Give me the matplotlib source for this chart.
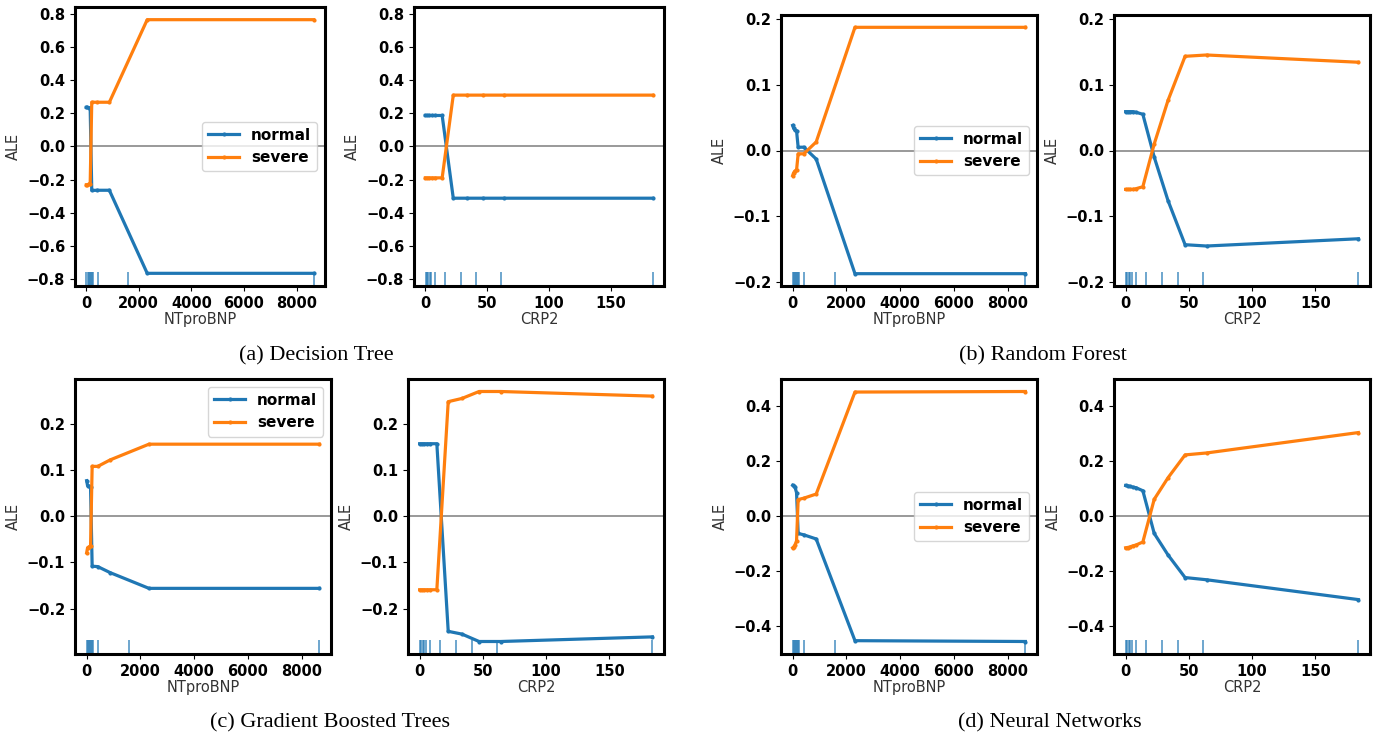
import matplotlib
matplotlib.use("Agg")
import matplotlib.pyplot as plt
from matplotlib import transforms
from matplotlib.ticker import MultipleLocator

W, H = 1376, 738

# feature grids (ALE bin edges) and deciles for the rug
nt_x = [5, 40, 90, 150, 210, 420, 880, 2320, 8650]
crp_x = [0, 1.5, 3.3, 5.7, 8.2, 13.6, 22.6, 33.5, 47, 64, 184]
nt_rug = [10, 50, 90, 130, 170, 210, 250, 440, 1570, 8650]
crp_rug = [0.3, 1.2, 2.3, 3.5, 4.8, 7.8, 16.3, 28.5, 41.2, 61, 184]

# Decision Tree
dt_nt_normal = [0.236, 0.236, 0.233, 0.233, -0.266, -0.265, -0.265, -0.767, -0.767]
dt_nt_severe = [-0.232, -0.232, -0.228, -0.228, 0.267, 0.267, 0.267, 0.766, 0.766]
dt_crp_normal = [0.187, 0.187, 0.187, 0.187, 0.187, 0.187, -0.313, -0.313, -0.313, -0.313, -0.313]
dt_crp_severe = [-0.190, -0.190, -0.190, -0.190, -0.190, -0.190, 0.310, 0.310, 0.310, 0.310, 0.310]

# Random Forest
rf_nt_normal = [0.038, 0.034, 0.031, 0.030, 0.005, 0.005, -0.013, -0.187, -0.187]
rf_nt_severe = [-0.038, -0.034, -0.031, -0.030, -0.005, -0.005, 0.013, 0.187, 0.187]
rf_crp_normal = [0.059, 0.059, 0.059, 0.059, 0.058, 0.055, -0.010, -0.076, -0.143, -0.145, -0.134]
rf_crp_severe = [-0.059, -0.059, -0.059, -0.059, -0.058, -0.055, 0.010, 0.076, 0.143, 0.145, 0.134]

# Gradient Boosted Trees
gb_nt_normal = [0.077, 0.066, 0.065, 0.064, -0.108, -0.109, -0.122, -0.156, -0.156]
gb_nt_severe = [-0.079, -0.068, -0.066, -0.065, 0.108, 0.108, 0.122, 0.156, 0.156]
gb_crp_normal = [0.157, 0.157, 0.157, 0.157, 0.157, 0.157, -0.249, -0.255, -0.271, -0.271, -0.261]
gb_crp_severe = [-0.159, -0.159, -0.159, -0.159, -0.159, -0.159, 0.248, 0.255, 0.270, 0.270, 0.260]

# Neural Networks
nn_nt_normal = [0.112, 0.110, 0.106, 0.085, -0.063, -0.068, -0.083, -0.452, -0.455]
nn_nt_severe = [-0.115, -0.112, -0.105, -0.090, 0.060, 0.065, 0.080, 0.450, 0.452]
nn_crp_normal = [0.111, 0.110, 0.108, 0.105, 0.103, 0.092, -0.063, -0.141, -0.223, -0.231, -0.303]
nn_crp_severe = [-0.115, -0.114, -0.112, -0.108, -0.105, -0.094, 0.061, 0.139, 0.222, 0.229, 0.303]

captions = ["(a) Decision Tree", "(b) Random Forest",
            "(c) Gradient Boosted Trees", "(d) Neural Networks"]

# (left, top, right, bottom) in pixels for the two axes of each sub-figure
boxes = [
    [(75, 7, 325, 286), (414, 7, 664, 286)],
    [(781, 15, 1037, 286), (1114, 15, 1370, 286)],
    [(75, 379, 331, 654), (408, 379, 664, 654)],
    [(781, 379, 1037, 654), (1114, 379, 1370, 654)],
]
caption_pos = [(316, 356), (1043, 356), (330, 723), (1050, 723)]
ystep = [0.2, 0.1, 0.1, 0.2]
legend_loc = ["center right", "center right", "upper right", "center right"]

series = [
    (dt_nt_normal, dt_nt_severe, dt_crp_normal, dt_crp_severe),
    (rf_nt_normal, rf_nt_severe, rf_crp_normal, rf_crp_severe),
    (gb_nt_normal, gb_nt_severe, gb_crp_normal, gb_crp_severe),
    (nn_nt_normal, nn_nt_severe, nn_crp_normal, nn_crp_severe),
]


def px_axes(fig, box, sharey=None):
    l, t, r, b = box
    return fig.add_axes([l / W, 1 - b / H, (r - l) / W, (b - t) / H], sharey=sharey)


def ale_panel(ax, x, normal, severe, rug, xlabel, step):
    ax.plot(x, normal, '-o', ms=2, lw=2.3, color='C0', label='normal')
    ax.plot(x, severe, '-o', ms=2, lw=2.3, color='C1', label='severe')
    ax.axhline(0, color='#999999', lw=1.4, zorder=0)
    trans = transforms.blended_transform_factory(ax.transData, ax.transAxes)
    ax.vlines(rug, 0, 0.05, transform=trans, color='C0', alpha=0.7, lw=1.3)
    ax.set_xlabel(xlabel, fontsize=10.5, color='#333333', labelpad=1)
    ax.set_ylabel('ALE', fontsize=10.5, color='#333333')
    ax.yaxis.set_major_locator(MultipleLocator(step))
    ax.tick_params(labelsize=10.5)
    for sp in ax.spines.values():
        sp.set_linewidth(2.2)
        sp.set_color('black')


fig = plt.figure(figsize=(W / 100, H / 100), dpi=100)

for i in range(4):
    nt_n, nt_s, crp_n, crp_s = series[i]
    ax1 = px_axes(fig, boxes[i][0])
    ax2 = px_axes(fig, boxes[i][1], sharey=ax1)
    ale_panel(ax1, nt_x, nt_n, nt_s, nt_rug, 'NTproBNP', ystep[i])
    ale_panel(ax2, crp_x, crp_n, crp_s, crp_rug, 'CRP2', ystep[i])
    for ax in (ax1, ax2):
        for lab in ax.get_xticklabels() + ax.get_yticklabels():
            lab.set_fontweight('bold')
    ax1.legend(loc=legend_loc[i], prop={'weight': 'bold', 'size': 11})
    cx, cy = caption_pos[i]
    fig.text(cx / W, 1 - cy / H, captions[i], ha='center', va='center',
             family=['Liberation Serif', 'DejaVu Serif'], fontsize=16)

fig.savefig('out.png', dpi=100)
